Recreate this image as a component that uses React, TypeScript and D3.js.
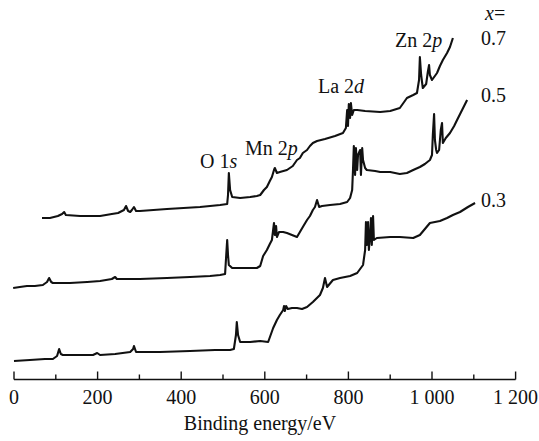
import React from "react";
import * as d3 from "d3";

// Binding energy (eV) and intensity (a.u., curves already offset)
const energy03 = [0,38,74,93,103,108,112,117,158,189,199,206,242,278,285,287,292,349,421,481,517,526,531,533,536,541,565,589,608,620,629,636,644,646,648,651,655,665,677,689,701,715,732,739,744,749,763,780,804,821,835,840,842,844,847,849,852,854,856,859,861,868,900,923,955,971,983,995,1019,1036,1050,1067,1086,1103];
const intensity03 = [19,20,21,21,24,31,26,25,25,25,27,25,26,28,31,34,28,28,29,30,30,31,45,58,45,38,38,39,38,52,60,65,70,74,69,74,71,72,72,71,73,78,85,92,102,93,100,102,104,107,115,130,158,135,158,130,145,162,135,164,140,142,143,143,142,145,151,157,159,162,165,168,173,177];

const energy05 = [-2,14,31,50,69,79,84,89,93,134,175,206,234,242,246,254,301,366,421,469,493,505,507,510,512,514,522,553,581,589,596,605,612,617,622,624,627,629,634,644,653,665,677,684,691,701,708,715,720,725,730,737,756,780,797,804,809,811,813,816,818,821,823,828,830,833,835,840,844,864,876,900,923,940,955,971,983,995,1000,1002,1005,1007,1010,1012,1017,1021,1024,1026,1033,1043,1053,1060,1072,1084];
const intensity05 = [92,93,94,94,95,98,102,98,97,97,98,99,101,103,101,101,101,102,103,104,105,106,120,140,125,115,112,112,112,114,124,130,136,140,157,145,154,143,148,148,147,145,143,148,153,160,164,170,173,180,173,174,175,176,178,182,190,210,234,205,232,210,225,230,205,232,220,212,210,209,208,208,206,207,210,213,216,220,225,245,266,240,230,227,230,250,257,237,242,247,254,260,270,280];

const energy07 = [67,86,105,115,120,124,158,206,234,249,263,268,273,278,282,287,292,301,366,445,493,510,512,514,517,522,541,565,581,589,598,605,612,617,622,624,629,636,653,667,677,684,691,701,708,715,725,744,768,787,794,797,799,801,804,806,809,813,821,840,876,900,923,935,940,955,964,969,971,974,978,986,990,993,995,1000,1012,1019,1026,1036,1043,1050];
const intensity07 = [162,162,164,166,168,165,164,164,166,167,170,174,169,168,170,173,169,169,171,173,175,176,185,207,190,183,182,183,184,185,190,193,199,203,210,212,207,208,210,214,220,222,227,230,234,237,239,241,244,247,252,270,254,276,262,277,265,270,270,269,268,269,272,279,282,285,287,300,323,305,292,296,308,315,305,300,307,314,320,327,333,342];

const majorTicks = [0, 200, 400, 600, 800, 1000, 1200];
const majorTickLabels = ["0", "200", "400", "600", "800", "1 000", "1 200"];
const minorTicks = [100, 300, 500, 700, 900, 1100];

const W = 539;
const H = 441;
const textStyle: React.CSSProperties = { fontFamily: "Liberation Serif", fontSize: "20px" };

export default function App() {
  const x = d3.scaleLinear().domain([0, 1200]).range([14, 515.6]);
  const y = d3.scaleLinear().domain([0, 370]).range([380, 10]);
  const axisY = 379.5;

  const line = d3
    .line<[number, number]>()
    .x((d) => x(d[0]))
    .y((d) => y(d[1]));

  const series = [
    { e: energy03, i: intensity03 },
    { e: energy05, i: intensity05 },
    { e: energy07, i: intensity07 },
  ];

  return (
    <svg
      width={W}
      height={H}
      style={{ position: "absolute", left: 0, top: 0, background: "#fff" }}
    >
      <rect width={W} height={H} fill="#fff" />
      {series.map((s, k) => (
        <path
          key={k}
          d={line(s.e.map((e, j) => [e, s.i[j]] as [number, number])) || ""}
          fill="none"
          stroke="#111"
          strokeWidth={2.1}
          strokeLinejoin="round"
        />
      ))}

      {/* axis */}
      <line x1={x(0)} x2={x(1200)} y1={axisY} y2={axisY} stroke="#111" strokeWidth={1.4} />
      {majorTicks.map((t) => (
        <line key={"M" + t} x1={x(t)} x2={x(t)} y1={axisY} y2={axisY - 8} stroke="#111" strokeWidth={1.4} />
      ))}
      {minorTicks.map((t) => (
        <line key={"m" + t} x1={x(t)} x2={x(t)} y1={axisY} y2={axisY - 5} stroke="#111" strokeWidth={1.4} />
      ))}
      {majorTicks.map((t, k) => (
        <text key={"L" + t} x={x(t)} y={404} textAnchor="middle" style={textStyle} fill="#111">
          {majorTickLabels[k]}
        </text>
      ))}
      <text x={260} y={430} textAnchor="middle" style={textStyle} fill="#111">
        Binding energy/eV
      </text>

      {/* peak annotations */}
      <text x={200} y={168} style={textStyle} fill="#111">
        O 1<tspan fontStyle="italic">s</tspan>
      </text>
      <text x={245} y={155} style={textStyle} fill="#111">
        Mn 2<tspan fontStyle="italic">p</tspan>
      </text>
      <text x={318} y={93} style={textStyle} fill="#111">
        La 2<tspan fontStyle="italic">d</tspan>
      </text>
      <text x={395} y={47} style={textStyle} fill="#111">
        Zn 2<tspan fontStyle="italic">p</tspan>
      </text>

      {/* composition labels */}
      <text x={485} y={20} style={textStyle} fill="#111">
        <tspan fontStyle="italic">x</tspan>=
      </text>
      <text x={481} y={45} style={textStyle} fill="#111">0.7</text>
      <text x={481} y={102} style={textStyle} fill="#111">0.5</text>
      <text x={481} y={207} style={textStyle} fill="#111">0.3</text>
    </svg>
  );
}
